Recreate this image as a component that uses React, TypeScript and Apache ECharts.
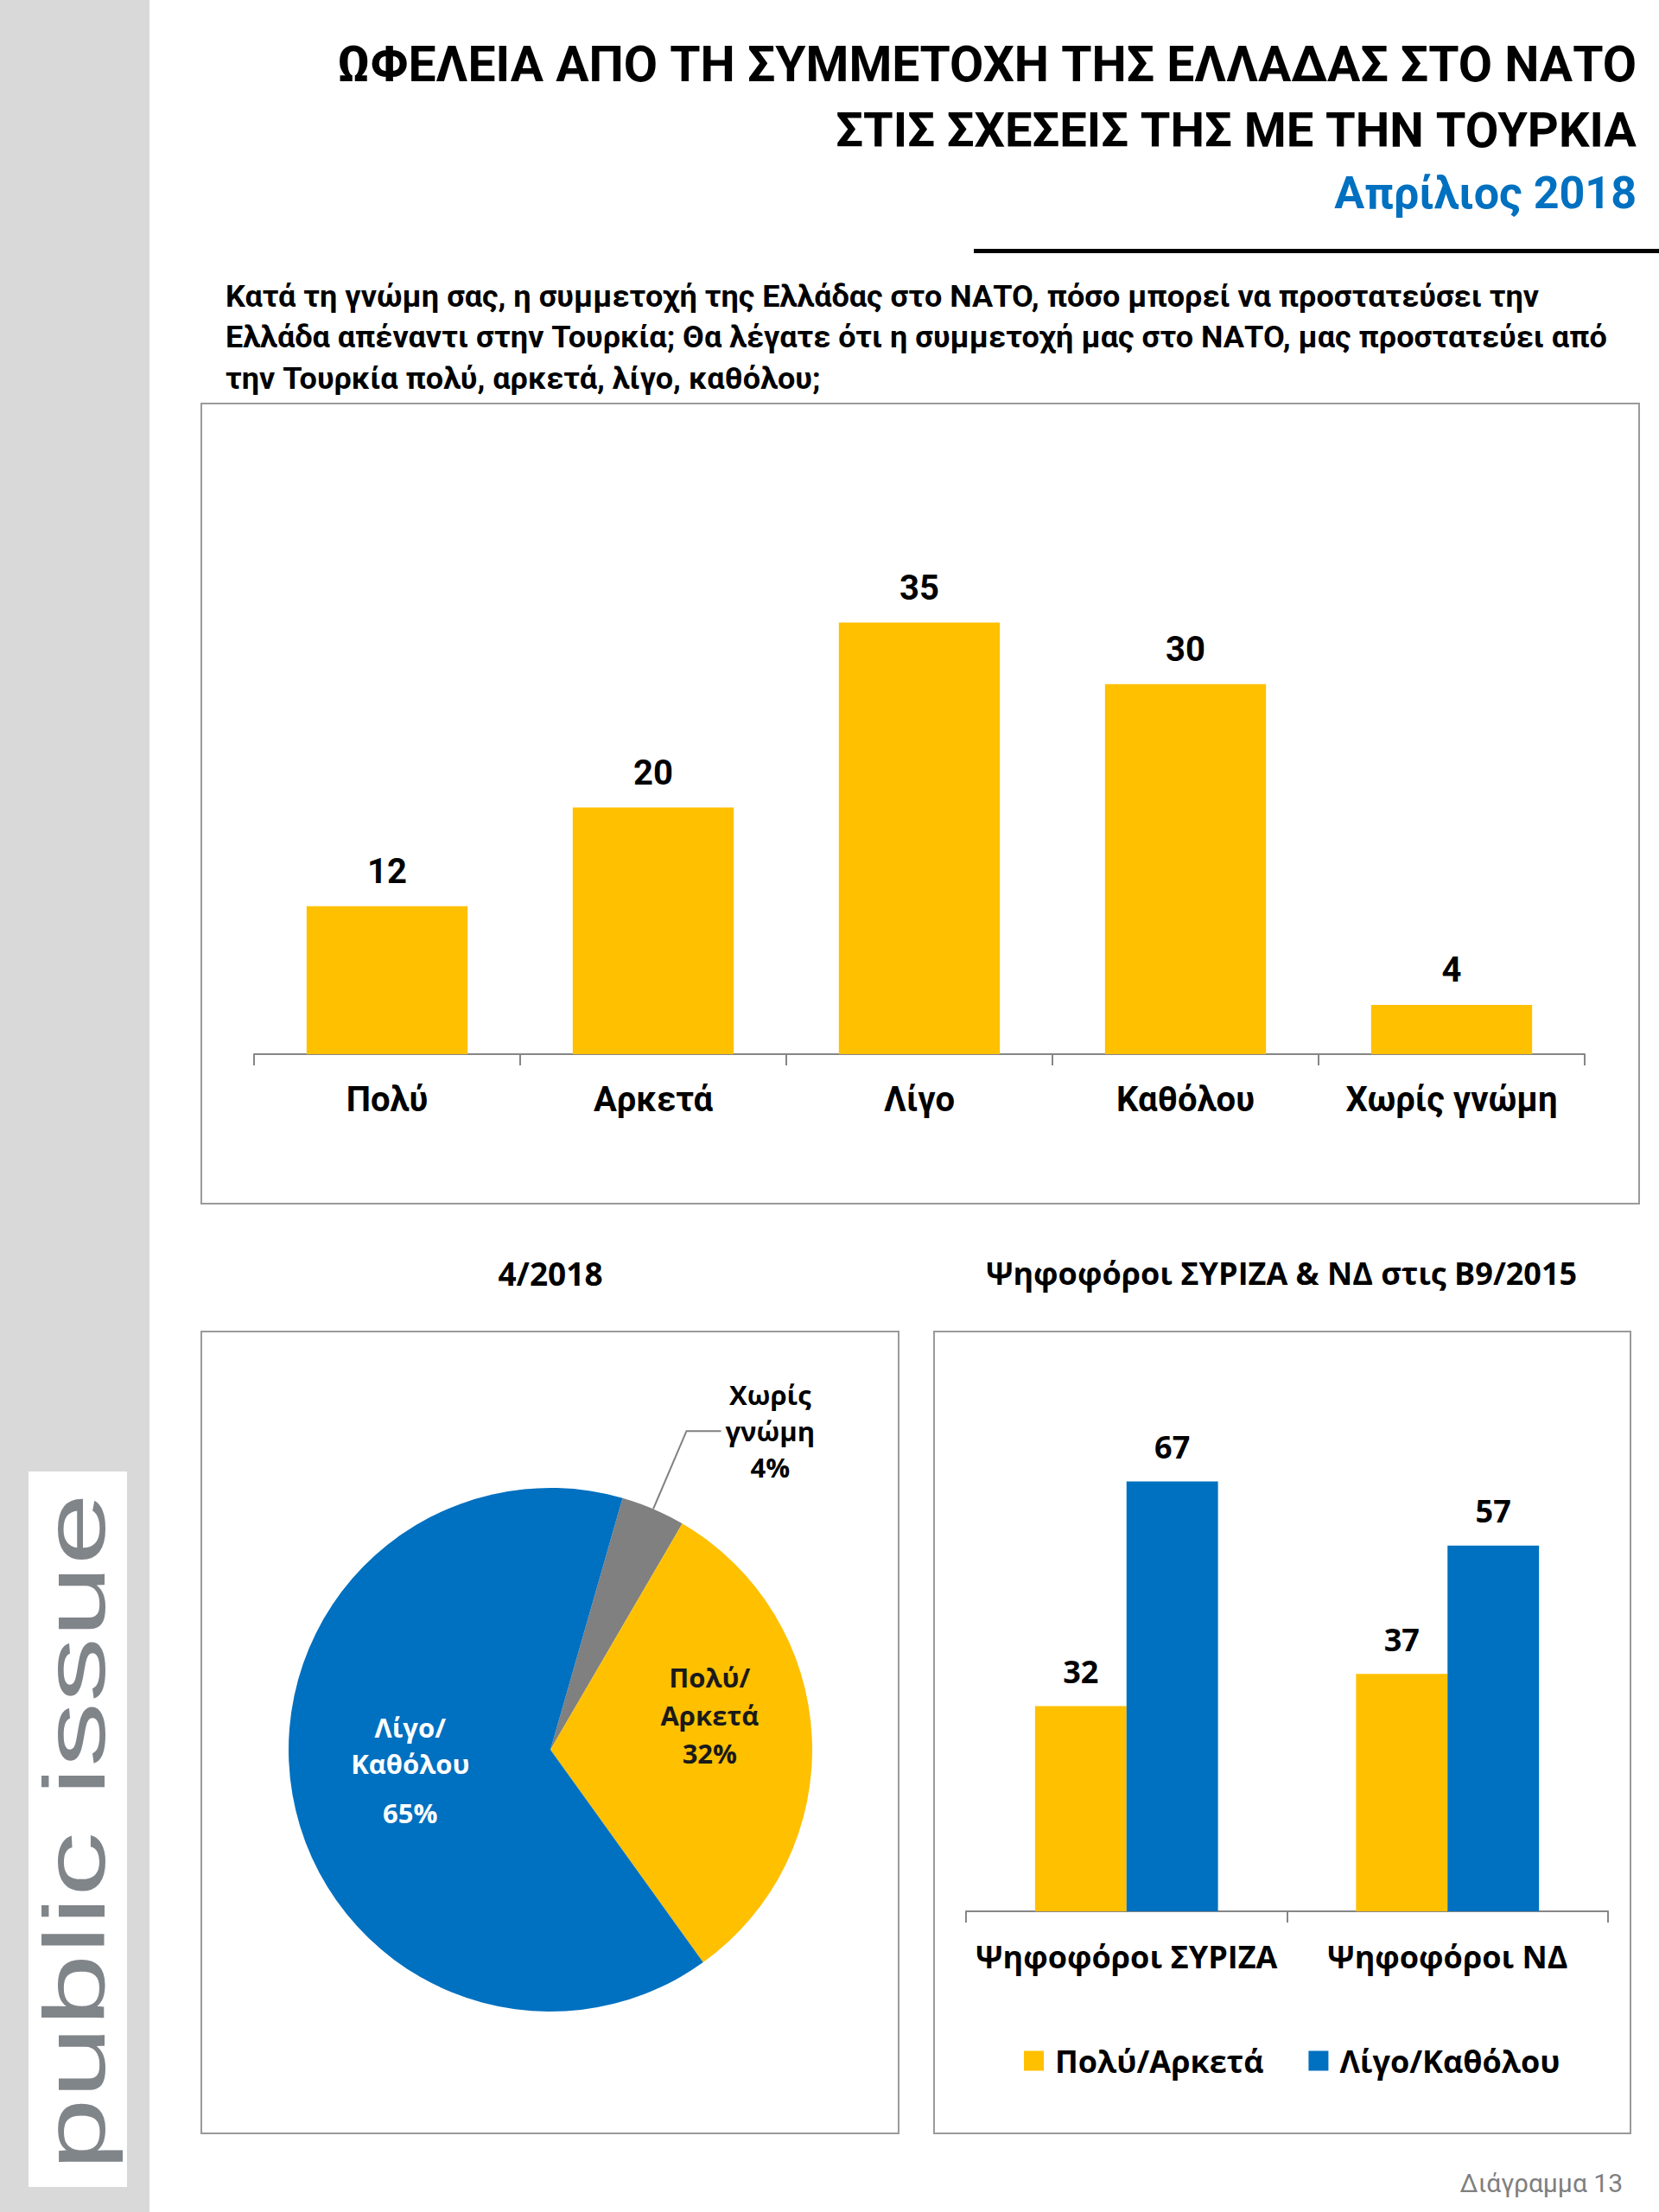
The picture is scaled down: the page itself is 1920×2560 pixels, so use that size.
import React, { useEffect, useRef } from 'react';
import * as echarts from 'echarts';

const TITLE_LINES = [
  'ΩΦΕΛΕΙΑ ΑΠΟ ΤΗ ΣΥΜΜΕΤΟΧΗ ΤΗΣ ΕΛΛΑΔΑΣ ΣΤΟ ΝΑΤΟ',
  'ΣΤΙΣ ΣΧΕΣΕΙΣ ΤΗΣ ΜΕ ΤΗΝ ΤΟΥΡΚΙΑ',
];
const SUBTITLE = 'Απρίλιος 2018';
const QUESTION_LINES = [
  'Κατά τη γνώμη σας, η συμμετοχή της Ελλάδας στο ΝΑΤΟ, πόσο μπορεί να προστατεύσει την',
  'Ελλάδα απέναντι στην Τουρκία; Θα λέγατε ότι η συμμετοχή μας στο ΝΑΤΟ, μας προστατεύει από',
  'την Τουρκία πολύ, αρκετά, λίγο, καθόλου;',
];
const mainCategories = ['Πολύ', 'Αρκετά', 'Λίγο', 'Καθόλου', 'Χωρίς γνώμη'];
const mainValues = [12, 20, 35, 30, 4];

const pieTitle = '4/2018';
const pieNames = ['Χωρίς γνώμη', 'Πολύ/Αρκετά', 'Λίγο/Καθόλου'];
const pieValues = [4, 32, 65];

const voterTitle = 'Ψηφοφόροι ΣΥΡΙΖΑ & ΝΔ στις Β9/2015';
const voterCategories = ['Ψηφοφόροι ΣΥΡΙΖΑ', 'Ψηφοφόροι ΝΔ'];
const voterSeriesNames = ['Πολύ/Αρκετά', 'Λίγο/Καθόλου'];
const voterMuchValues = [32, 37];
const voterLittleValues = [67, 57];

const FOOTER = 'Διάγραμμα 13';
const LOGO = 'public issue';

const YELLOW = '#FFC000';
const BLUE = '#0070C0';
const GRAY = '#808080';
const FRAME = '#9a9a9a';
const AXIS = '#868686';
const F1 = 'Roboto, "Noto Sans", sans-serif';
const F2 = '"Open Sans", "Noto Sans", sans-serif';

function txt(text: string, x: number, y: number, size: number, align: string, opts: any = {}) {
  return {
    type: 'text',
    x,
    y,
    scaleX: opts.scaleX ?? 1,
    rotation: opts.rotation ?? 0,
    style: {
      text,
      x: 0,
      y: 0,
      fill: opts.color ?? '#000',
      fontSize: size,
      fontWeight: opts.weight ?? 'bold',
      fontFamily: opts.family ?? F1,
      align,
      textAlign: align,
      verticalAlign: 'middle',
      textVerticalAlign: 'middle',
    },
  };
}

function frame(x1: number, y1: number, x2: number, y2: number) {
  return {
    type: 'rect',
    shape: { x: x1, y: y1, width: x2 - x1, height: y2 - y1 },
    style: { fill: 'none', stroke: FRAME, lineWidth: 2 },
  };
}

export default function App() {
  const ref = useRef<HTMLDivElement>(null);
  useEffect(() => {
    if (!ref.current) return;
    const chart = echarts.init(ref.current, null, { renderer: 'svg' });
    const pieColors = [GRAY, YELLOW, BLUE];
    const pieData = pieNames.map((name, i) => {
      const item: any = { name, value: pieValues[i], itemStyle: { color: pieColors[i] } };
      if (i === 0) {
        item.label = {
          position: 'outside',
          alignTo: 'none',
          formatter: (p: any) =>
            p.name.split(' ').map((s: string) => `{a|${s}}`).join('\n') + `\n{a|${p.value}%}`,
          rich: { a: { align: 'center', fontSize: 31, fontWeight: 'bold', fontFamily: F2, color: '#000', lineHeight: 42 } },
        };
        item.labelLine = { show: true, length: 98, length2: 40, lineStyle: { color: GRAY, width: 2 } };
      } else if (i === 1) {
        item.label = {
          position: 'inside',
          formatter: (p: any) => p.name.replace('/', '/\n') + `\n${p.value}%`,
          color: '#1a1a1a',
          lineHeight: 44,
        };
      } else {
        item.label = {
          position: 'inside',
          formatter: (p: any) => p.name.replace('/', '/\n') + `\n{b|${p.value}%}`,
          color: '#fff',
          lineHeight: 42,
          rich: { b: { fontSize: 31, fontWeight: 'bold', fontFamily: F2, color: '#fff', lineHeight: 72 } },
        };
      }
      return item;
    });

    const option: any = {
      animation: false,
      backgroundColor: '#fff',
      graphic: [
        { type: 'rect', shape: { x: 0, y: 0, width: 173, height: 2560 }, style: { fill: '#d9d9d9' } },
        { type: 'rect', shape: { x: 33, y: 1703, width: 114, height: 828 }, style: { fill: '#fff' } },
        txt(LOGO, 86, 2120, 100, 'center', { rotation: Math.PI / 2, scaleX: 1.5, weight: 'normal', family: '"Liberation Sans", Arial, sans-serif', color: '#80858a' }),
        txt(TITLE_LINES[0], 1894, 74, 57, 'right'),
        txt(TITLE_LINES[1], 1894, 151, 56, 'right'),
        txt(SUBTITLE, 1894, 223, 52, 'right', { color: BLUE }),
        { type: 'rect', shape: { x: 1127, y: 288, width: 793, height: 5 }, style: { fill: '#000' } },
        txt(QUESTION_LINES[0], 261, 343, 35, 'left', { scaleX: 1.03 }),
        txt(QUESTION_LINES[1], 261, 390, 35, 'left', { scaleX: 1.03 }),
        txt(QUESTION_LINES[2], 261, 438, 35, 'left', { scaleX: 1.03 }),
        frame(233, 467, 1897, 1393),
        frame(233, 1541, 1040, 2469),
        frame(1081, 1541, 1887, 2469),
        txt(pieTitle, 637, 1473, 37, 'center', { family: F2 }),
        txt(voterTitle, 1483, 1473, 36, 'center', { family: F2 }),
        txt(FOOTER, 1878, 2526, 30, 'right', { weight: 'normal', color: '#7f7f7f' }),
      ],
      grid: [
        { left: 294, top: 649, width: 1540, height: 571 },
        { left: 1118, top: 1618, width: 743, height: 594 },
      ],
      xAxis: [
        {
          type: 'category',
          gridIndex: 0,
          data: mainCategories,
          axisLine: { lineStyle: { color: AXIS, width: 2 } },
          axisTick: { show: true, interval: 0, length: 13, lineStyle: { color: AXIS, width: 2 } },
          axisLabel: { interval: 0, margin: 32, color: '#000', fontSize: 40, fontWeight: 'bold', fontFamily: F1 },
        },
        {
          type: 'category',
          gridIndex: 1,
          data: voterCategories,
          axisLine: { lineStyle: { color: AXIS, width: 2 } },
          axisTick: { show: true, interval: 0, length: 13, lineStyle: { color: AXIS, width: 2 } },
          axisLabel: { interval: 0, margin: 34, color: '#000', fontSize: 36, fontWeight: 'bold', fontFamily: F2 },
        },
      ],
      yAxis: [
        { type: 'value', gridIndex: 0, min: 0, max: 40, show: false, splitLine: { show: false } },
        { type: 'value', gridIndex: 1, min: 0, max: 80, show: false, splitLine: { show: false } },
      ],
      legend: {
        data: voterSeriesNames,
        left: 1180,
        top: 2362,
        icon: 'rect',
        itemWidth: 23,
        itemHeight: 23,
        itemGap: 52,
        textStyle: { fontSize: 36, fontWeight: 'bold', fontFamily: F2, color: '#000', padding: [0, 0, 0, 8] },
      },
      series: [
        {
          type: 'bar',
          xAxisIndex: 0,
          yAxisIndex: 0,
          data: mainValues,
          barWidth: '60.5%',
          itemStyle: { color: YELLOW },
          label: { show: true, position: 'top', distance: 20, color: '#000', fontSize: 40, fontWeight: 'bold', fontFamily: F1 },
        },
        {
          type: 'pie',
          center: [637, 2025],
          radius: 303,
          startAngle: 74,
          clockwise: true,
          avoidLabelOverlap: false,
          data: pieData,
          label: { show: true, position: 'inside', fontSize: 31, fontWeight: 'bold', fontFamily: F2 },
          labelLine: { show: false },
          labelLayout: (p: any) => (p.dataIndex === 1 ? { dx: 30, dy: -33 } : p.dataIndex === 2 ? { dx: -10, dy: 5 } : {}),
          emphasis: { disabled: true },
        },
        {
          name: voterSeriesNames[0],
          type: 'bar',
          xAxisIndex: 1,
          yAxisIndex: 1,
          data: voterMuchValues,
          barWidth: '28.5%',
          barGap: '0%',
          itemStyle: { color: YELLOW },
          label: { show: true, position: 'top', distance: 22, color: '#000', fontSize: 36, fontWeight: 'bold', fontFamily: F2 },
        },
        {
          name: voterSeriesNames[1],
          type: 'bar',
          xAxisIndex: 1,
          yAxisIndex: 1,
          data: voterLittleValues,
          barWidth: '28.5%',
          barGap: '0%',
          itemStyle: { color: BLUE },
          label: { show: true, position: 'top', distance: 22, color: '#000', fontSize: 36, fontWeight: 'bold', fontFamily: F2 },
        },
      ],
    };
    chart.setOption(option);
    return () => chart.dispose();
  }, []);
  return <div ref={ref} style={{ position: 'absolute', left: 0, top: 0, width: 1920, height: 2560 }} />;
}
